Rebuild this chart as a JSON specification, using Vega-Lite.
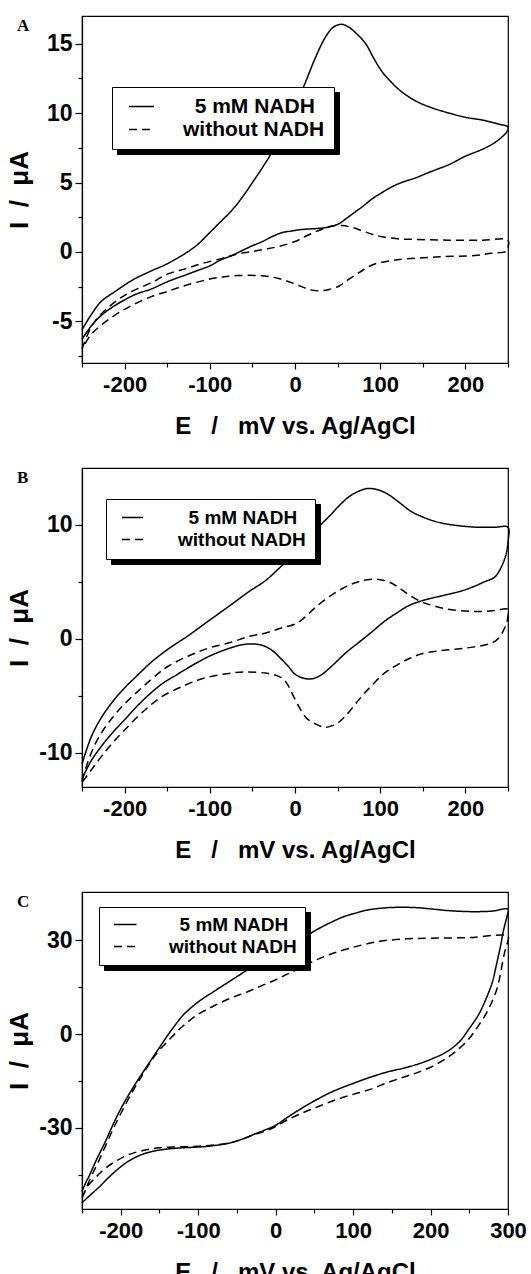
{
"$schema": "https://vega.github.io/schema/vega-lite/v6.json",
"background": "white",
"padding": {"left": 5, "top": 15, "right": 5, "bottom": 0},
"spacing": 28,
"resolve": {"scale": {"color": "independent", "strokeDash": "independent"}, "legend": {"color": "independent", "strokeDash": "independent"}},
"config": {
  "view": {"stroke": "black", "strokeWidth": 1.2},
  "axis": {"domainColor": "black", "domainWidth": 1.2, "tickColor": "black", "tickWidth": 1.2, "grid": false,
           "labelFont": "Liberation Sans", "labelFontWeight": "bold", "labelColor": "black",
           "titleFont": "Liberation Sans", "titleFontWeight": "bold", "titleColor": "black",
           "labelOverlap": false, "labelFlush": false, "labelBound": false},
  "line": {"strokeWidth": 1.5, "color": "black", "interpolate": "catmull-rom"},
  "text": {"font": "Liberation Serif", "fontSize": 17, "fontWeight": "bold", "color": "black", "align": "left", "baseline": "alphabetic"}
},
"datasets": {
"a": [
{"s":"5 mM NADH","o":0,"E":-250,"I":-5.6},{"s":"5 mM NADH","o":1,"E":-240,"I":-4.6},{"s":"5 mM NADH","o":2,"E":-228,"I":-3.6},{"s":"5 mM NADH","o":3,"E":-210,"I":-2.8},{"s":"5 mM NADH","o":4,"E":-190,"I":-2.0},{"s":"5 mM NADH","o":5,"E":-170,"I":-1.4},{"s":"5 mM NADH","o":6,"E":-150,"I":-0.85},{"s":"5 mM NADH","o":7,"E":-130,"I":-0.15},{"s":"5 mM NADH","o":8,"E":-115,"I":0.5},{"s":"5 mM NADH","o":9,"E":-100,"I":1.4},{"s":"5 mM NADH","o":10,"E":-87,"I":2.2},{"s":"5 mM NADH","o":11,"E":-74,"I":3.0},{"s":"5 mM NADH","o":12,"E":-60,"I":4.1},{"s":"5 mM NADH","o":13,"E":-50,"I":5.0},{"s":"5 mM NADH","o":14,"E":-38,"I":6.1},{"s":"5 mM NADH","o":15,"E":-27,"I":7.2},{"s":"5 mM NADH","o":16,"E":-10,"I":9.3},{"s":"5 mM NADH","o":17,"E":0,"I":10.6},{"s":"5 mM NADH","o":18,"E":10,"I":11.9},{"s":"5 mM NADH","o":19,"E":24,"I":14.0},{"s":"5 mM NADH","o":20,"E":35,"I":15.4},{"s":"5 mM NADH","o":21,"E":45,"I":16.2},{"s":"5 mM NADH","o":22,"E":55,"I":16.4},{"s":"5 mM NADH","o":23,"E":63,"I":16.2},{"s":"5 mM NADH","o":24,"E":71,"I":15.8},{"s":"5 mM NADH","o":25,"E":83,"I":15.0},{"s":"5 mM NADH","o":26,"E":92,"I":14.0},{"s":"5 mM NADH","o":27,"E":102,"I":13.0},{"s":"5 mM NADH","o":28,"E":112,"I":12.3},{"s":"5 mM NADH","o":29,"E":122,"I":11.7},{"s":"5 mM NADH","o":30,"E":141,"I":10.9},{"s":"5 mM NADH","o":31,"E":160,"I":10.4},{"s":"5 mM NADH","o":32,"E":181,"I":10.0},{"s":"5 mM NADH","o":33,"E":200,"I":9.7},{"s":"5 mM NADH","o":34,"E":220,"I":9.5},{"s":"5 mM NADH","o":35,"E":240,"I":9.2},{"s":"5 mM NADH","o":36,"E":250,"I":9.0},
{"s":"5 mM NADH","o":37,"E":249,"I":8.7},{"s":"5 mM NADH","o":38,"E":245,"I":8.4},{"s":"5 mM NADH","o":39,"E":235,"I":7.9},{"s":"5 mM NADH","o":40,"E":220,"I":7.4},{"s":"5 mM NADH","o":41,"E":200,"I":6.9},{"s":"5 mM NADH","o":42,"E":181,"I":6.3},{"s":"5 mM NADH","o":43,"E":160,"I":5.8},{"s":"5 mM NADH","o":44,"E":142,"I":5.35},{"s":"5 mM NADH","o":45,"E":125,"I":5.0},{"s":"5 mM NADH","o":46,"E":114,"I":4.7},{"s":"5 mM NADH","o":47,"E":100,"I":4.2},{"s":"5 mM NADH","o":48,"E":90,"I":3.8},{"s":"5 mM NADH","o":49,"E":80,"I":3.3},{"s":"5 mM NADH","o":50,"E":71,"I":2.9},{"s":"5 mM NADH","o":51,"E":60,"I":2.4},{"s":"5 mM NADH","o":52,"E":52,"I":2.05},{"s":"5 mM NADH","o":53,"E":40,"I":1.8},{"s":"5 mM NADH","o":54,"E":28,"I":1.7},{"s":"5 mM NADH","o":55,"E":15,"I":1.65},{"s":"5 mM NADH","o":56,"E":5,"I":1.6},{"s":"5 mM NADH","o":57,"E":-5,"I":1.5},{"s":"5 mM NADH","o":58,"E":-15,"I":1.4},{"s":"5 mM NADH","o":59,"E":-27,"I":1.1},{"s":"5 mM NADH","o":60,"E":-40,"I":0.7},{"s":"5 mM NADH","o":61,"E":-50,"I":0.45},{"s":"5 mM NADH","o":62,"E":-62,"I":0.1},{"s":"5 mM NADH","o":63,"E":-74,"I":-0.25},{"s":"5 mM NADH","o":64,"E":-88,"I":-0.6},{"s":"5 mM NADH","o":65,"E":-100,"I":-1.0},{"s":"5 mM NADH","o":66,"E":-115,"I":-1.35},{"s":"5 mM NADH","o":67,"E":-128,"I":-1.65},{"s":"5 mM NADH","o":68,"E":-148,"I":-2.1},{"s":"5 mM NADH","o":69,"E":-170,"I":-2.7},{"s":"5 mM NADH","o":70,"E":-185,"I":-3.0},{"s":"5 mM NADH","o":71,"E":-200,"I":-3.45},{"s":"5 mM NADH","o":72,"E":-215,"I":-4.0},{"s":"5 mM NADH","o":73,"E":-228,"I":-4.6},{"s":"5 mM NADH","o":74,"E":-240,"I":-5.4},{"s":"5 mM NADH","o":75,"E":-250,"I":-6.3},
{"s":"without NADH","o":0,"E":-250,"I":-7.0},{"s":"without NADH","o":1,"E":-240,"I":-5.5},{"s":"without NADH","o":2,"E":-228,"I":-4.5},{"s":"without NADH","o":3,"E":-208,"I":-3.45},{"s":"without NADH","o":4,"E":-190,"I":-2.8},{"s":"without NADH","o":5,"E":-168,"I":-2.2},{"s":"without NADH","o":6,"E":-150,"I":-1.6},{"s":"without NADH","o":7,"E":-128,"I":-1.2},{"s":"without NADH","o":8,"E":-110,"I":-0.85},{"s":"without NADH","o":9,"E":-88,"I":-0.5},{"s":"without NADH","o":10,"E":-74,"I":-0.25},{"s":"without NADH","o":11,"E":-60,"I":-0.05},{"s":"without NADH","o":12,"E":-48,"I":0.05},{"s":"without NADH","o":13,"E":-35,"I":0.2},{"s":"without NADH","o":14,"E":-19,"I":0.4},{"s":"without NADH","o":15,"E":0,"I":0.75},{"s":"without NADH","o":16,"E":15,"I":1.2},{"s":"without NADH","o":17,"E":30,"I":1.6},{"s":"without NADH","o":18,"E":42,"I":1.85},{"s":"without NADH","o":19,"E":55,"I":1.9},{"s":"without NADH","o":20,"E":68,"I":1.75},{"s":"without NADH","o":21,"E":80,"I":1.5},{"s":"without NADH","o":22,"E":92,"I":1.25},{"s":"without NADH","o":23,"E":102,"I":1.1},{"s":"without NADH","o":24,"E":120,"I":0.95},{"s":"without NADH","o":25,"E":142,"I":0.9},{"s":"without NADH","o":26,"E":180,"I":0.85},{"s":"without NADH","o":27,"E":220,"I":0.85},{"s":"without NADH","o":28,"E":250,"I":0.85},
{"s":"without NADH","o":29,"E":250,"I":0.3},{"s":"without NADH","o":30,"E":248,"I":0.05},{"s":"without NADH","o":31,"E":230,"I":-0.1},{"s":"without NADH","o":32,"E":211,"I":-0.25},{"s":"without NADH","o":33,"E":170,"I":-0.35},{"s":"without NADH","o":34,"E":131,"I":-0.5},{"s":"without NADH","o":35,"E":110,"I":-0.65},{"s":"without NADH","o":36,"E":92,"I":-0.9},{"s":"without NADH","o":37,"E":80,"I":-1.3},{"s":"without NADH","o":38,"E":70,"I":-1.7},{"s":"without NADH","o":39,"E":60,"I":-2.1},{"s":"without NADH","o":40,"E":52,"I":-2.45},{"s":"without NADH","o":41,"E":40,"I":-2.7},{"s":"without NADH","o":42,"E":30,"I":-2.8},{"s":"without NADH","o":43,"E":20,"I":-2.75},{"s":"without NADH","o":44,"E":10,"I":-2.55},{"s":"without NADH","o":45,"E":0,"I":-2.3},{"s":"without NADH","o":46,"E":-14,"I":-2.0},{"s":"without NADH","o":47,"E":-28,"I":-1.8},{"s":"without NADH","o":48,"E":-45,"I":-1.7},{"s":"without NADH","o":49,"E":-68,"I":-1.7},{"s":"without NADH","o":50,"E":-85,"I":-1.8},{"s":"without NADH","o":51,"E":-100,"I":-1.95},{"s":"without NADH","o":52,"E":-128,"I":-2.4},{"s":"without NADH","o":53,"E":-150,"I":-2.85},{"s":"without NADH","o":54,"E":-168,"I":-3.2},{"s":"without NADH","o":55,"E":-190,"I":-3.8},{"s":"without NADH","o":56,"E":-210,"I":-4.5},{"s":"without NADH","o":57,"E":-228,"I":-5.3},{"s":"without NADH","o":58,"E":-240,"I":-6.0},{"s":"without NADH","o":59,"E":-250,"I":-7.0}
],
"b": [
{"s":"5 mM NADH","o":0,"E":-250,"I":-11.0},{"s":"5 mM NADH","o":1,"E":-245,"I":-9.8},{"s":"5 mM NADH","o":2,"E":-238,"I":-8.4},{"s":"5 mM NADH","o":3,"E":-228,"I":-7.0},{"s":"5 mM NADH","o":4,"E":-215,"I":-5.6},{"s":"5 mM NADH","o":5,"E":-200,"I":-4.3},{"s":"5 mM NADH","o":6,"E":-185,"I":-3.2},{"s":"5 mM NADH","o":7,"E":-168,"I":-2.0},{"s":"5 mM NADH","o":8,"E":-149,"I":-0.9},{"s":"5 mM NADH","o":9,"E":-125,"I":0.3},{"s":"5 mM NADH","o":10,"E":-113,"I":0.95},{"s":"5 mM NADH","o":11,"E":-101,"I":1.6},{"s":"5 mM NADH","o":12,"E":-88,"I":2.3},{"s":"5 mM NADH","o":13,"E":-75,"I":3.0},{"s":"5 mM NADH","o":14,"E":-55,"I":4.1},{"s":"5 mM NADH","o":15,"E":-35,"I":5.1},{"s":"5 mM NADH","o":16,"E":-20,"I":6.1},{"s":"5 mM NADH","o":17,"E":-5,"I":7.2},{"s":"5 mM NADH","o":18,"E":5,"I":7.9},{"s":"5 mM NADH","o":19,"E":19,"I":9.1},{"s":"5 mM NADH","o":20,"E":30,"I":10.0},{"s":"5 mM NADH","o":21,"E":42,"I":10.9},{"s":"5 mM NADH","o":22,"E":52,"I":11.7},{"s":"5 mM NADH","o":23,"E":62,"I":12.4},{"s":"5 mM NADH","o":24,"E":73,"I":12.9},{"s":"5 mM NADH","o":25,"E":85,"I":13.2},{"s":"5 mM NADH","o":26,"E":97,"I":13.1},{"s":"5 mM NADH","o":27,"E":109,"I":12.7},{"s":"5 mM NADH","o":28,"E":122,"I":12.0},{"s":"5 mM NADH","o":29,"E":136,"I":11.2},{"s":"5 mM NADH","o":30,"E":150,"I":10.7},{"s":"5 mM NADH","o":31,"E":165,"I":10.3},{"s":"5 mM NADH","o":32,"E":185,"I":10.0},{"s":"5 mM NADH","o":33,"E":214,"I":9.8},{"s":"5 mM NADH","o":34,"E":235,"I":9.8},{"s":"5 mM NADH","o":35,"E":250,"I":9.8},
{"s":"5 mM NADH","o":36,"E":250,"I":8.5},{"s":"5 mM NADH","o":37,"E":248,"I":7.5},{"s":"5 mM NADH","o":38,"E":245,"I":6.8},{"s":"5 mM NADH","o":39,"E":240,"I":6.0},{"s":"5 mM NADH","o":40,"E":234,"I":5.4},{"s":"5 mM NADH","o":41,"E":222,"I":5.0},{"s":"5 mM NADH","o":42,"E":210,"I":4.6},{"s":"5 mM NADH","o":43,"E":195,"I":4.2},{"s":"5 mM NADH","o":44,"E":179,"I":3.9},{"s":"5 mM NADH","o":45,"E":162,"I":3.6},{"s":"5 mM NADH","o":46,"E":147,"I":3.3},{"s":"5 mM NADH","o":47,"E":133,"I":2.9},{"s":"5 mM NADH","o":48,"E":120,"I":2.3},{"s":"5 mM NADH","o":49,"E":106,"I":1.6},{"s":"5 mM NADH","o":50,"E":90,"I":0.6},{"s":"5 mM NADH","o":51,"E":75,"I":-0.3},{"s":"5 mM NADH","o":52,"E":60,"I":-1.2},{"s":"5 mM NADH","o":53,"E":50,"I":-1.9},{"s":"5 mM NADH","o":54,"E":40,"I":-2.6},{"s":"5 mM NADH","o":55,"E":30,"I":-3.2},{"s":"5 mM NADH","o":56,"E":20,"I":-3.5},{"s":"5 mM NADH","o":57,"E":10,"I":-3.45},{"s":"5 mM NADH","o":58,"E":0,"I":-3.1},{"s":"5 mM NADH","o":59,"E":-8,"I":-2.4},{"s":"5 mM NADH","o":60,"E":-17,"I":-1.7},{"s":"5 mM NADH","o":61,"E":-27,"I":-1.0},{"s":"5 mM NADH","o":62,"E":-37,"I":-0.6},{"s":"5 mM NADH","o":63,"E":-48,"I":-0.45},{"s":"5 mM NADH","o":64,"E":-61,"I":-0.5},{"s":"5 mM NADH","o":65,"E":-80,"I":-0.9},{"s":"5 mM NADH","o":66,"E":-100,"I":-1.5},{"s":"5 mM NADH","o":67,"E":-120,"I":-2.3},{"s":"5 mM NADH","o":68,"E":-140,"I":-3.2},{"s":"5 mM NADH","o":69,"E":-157,"I":-4.0},{"s":"5 mM NADH","o":70,"E":-180,"I":-5.5},{"s":"5 mM NADH","o":71,"E":-200,"I":-7.1},{"s":"5 mM NADH","o":72,"E":-215,"I":-8.3},{"s":"5 mM NADH","o":73,"E":-228,"I":-9.5},{"s":"5 mM NADH","o":74,"E":-240,"I":-10.8},{"s":"5 mM NADH","o":75,"E":-250,"I":-12.3},
{"s":"without NADH","o":0,"E":-250,"I":-12.5},{"s":"without NADH","o":1,"E":-244,"I":-11.0},{"s":"without NADH","o":2,"E":-235,"I":-9.3},{"s":"without NADH","o":3,"E":-225,"I":-8.0},{"s":"without NADH","o":4,"E":-212,"I":-6.7},{"s":"without NADH","o":5,"E":-200,"I":-5.7},{"s":"without NADH","o":6,"E":-180,"I":-4.3},{"s":"without NADH","o":7,"E":-160,"I":-3.0},{"s":"without NADH","o":8,"E":-149,"I":-2.4},{"s":"without NADH","o":9,"E":-125,"I":-1.5},{"s":"without NADH","o":10,"E":-101,"I":-0.8},{"s":"without NADH","o":11,"E":-75,"I":-0.3},{"s":"without NADH","o":12,"E":-55,"I":0.2},{"s":"without NADH","o":13,"E":-35,"I":0.5},{"s":"without NADH","o":14,"E":-16,"I":0.95},{"s":"without NADH","o":15,"E":0,"I":1.3},{"s":"without NADH","o":16,"E":10,"I":1.8},{"s":"without NADH","o":17,"E":23,"I":2.7},{"s":"without NADH","o":18,"E":40,"I":3.7},{"s":"without NADH","o":19,"E":55,"I":4.4},{"s":"without NADH","o":20,"E":70,"I":4.9},{"s":"without NADH","o":21,"E":85,"I":5.2},{"s":"without NADH","o":22,"E":100,"I":5.2},{"s":"without NADH","o":23,"E":110,"I":5.0},{"s":"without NADH","o":24,"E":120,"I":4.6},{"s":"without NADH","o":25,"E":133,"I":3.9},{"s":"without NADH","o":26,"E":147,"I":3.3},{"s":"without NADH","o":27,"E":163,"I":2.9},{"s":"without NADH","o":28,"E":179,"I":2.6},{"s":"without NADH","o":29,"E":200,"I":2.45},{"s":"without NADH","o":30,"E":218,"I":2.4},{"s":"without NADH","o":31,"E":235,"I":2.5},{"s":"without NADH","o":32,"E":250,"I":2.6},
{"s":"without NADH","o":33,"E":250,"I":2.0},{"s":"without NADH","o":34,"E":248,"I":1.3},{"s":"without NADH","o":35,"E":245,"I":0.8},{"s":"without NADH","o":36,"E":241,"I":0.25},{"s":"without NADH","o":37,"E":235,"I":-0.2},{"s":"without NADH","o":38,"E":225,"I":-0.5},{"s":"without NADH","o":39,"E":201,"I":-0.8},{"s":"without NADH","o":40,"E":175,"I":-1.0},{"s":"without NADH","o":41,"E":149,"I":-1.3},{"s":"without NADH","o":42,"E":135,"I":-1.7},{"s":"without NADH","o":43,"E":122,"I":-2.2},{"s":"without NADH","o":44,"E":105,"I":-3.0},{"s":"without NADH","o":45,"E":90,"I":-4.1},{"s":"without NADH","o":46,"E":80,"I":-4.9},{"s":"without NADH","o":47,"E":70,"I":-5.8},{"s":"without NADH","o":48,"E":60,"I":-6.7},{"s":"without NADH","o":49,"E":50,"I":-7.4},{"s":"without NADH","o":50,"E":40,"I":-7.7},{"s":"without NADH","o":51,"E":34,"I":-7.75},{"s":"without NADH","o":52,"E":25,"I":-7.5},{"s":"without NADH","o":53,"E":14,"I":-7.0},{"s":"without NADH","o":54,"E":5,"I":-6.0},{"s":"without NADH","o":55,"E":-2,"I":-5.0},{"s":"without NADH","o":56,"E":-8,"I":-4.1},{"s":"without NADH","o":57,"E":-14,"I":-3.5},{"s":"without NADH","o":58,"E":-22,"I":-3.2},{"s":"without NADH","o":59,"E":-35,"I":-3.0},{"s":"without NADH","o":60,"E":-57,"I":-2.9},{"s":"without NADH","o":61,"E":-80,"I":-3.05},{"s":"without NADH","o":62,"E":-109,"I":-3.5},{"s":"without NADH","o":63,"E":-130,"I":-4.1},{"s":"without NADH","o":64,"E":-157,"I":-5.1},{"s":"without NADH","o":65,"E":-180,"I":-6.5},{"s":"without NADH","o":66,"E":-200,"I":-8.0},{"s":"without NADH","o":67,"E":-215,"I":-9.2},{"s":"without NADH","o":68,"E":-228,"I":-10.4},{"s":"without NADH","o":69,"E":-240,"I":-11.6},{"s":"without NADH","o":70,"E":-250,"I":-12.6}
],
"c": [
{"s":"5 mM NADH","o":0,"E":-250,"I":-50.4},{"s":"5 mM NADH","o":1,"E":-245,"I":-47.5},{"s":"5 mM NADH","o":2,"E":-240,"I":-45},{"s":"5 mM NADH","o":3,"E":-232,"I":-40.6},{"s":"5 mM NADH","o":4,"E":-220,"I":-34.5},{"s":"5 mM NADH","o":5,"E":-210,"I":-29},{"s":"5 mM NADH","o":6,"E":-199,"I":-23.5},{"s":"5 mM NADH","o":7,"E":-185,"I":-17.5},{"s":"5 mM NADH","o":8,"E":-171,"I":-12.1},{"s":"5 mM NADH","o":9,"E":-160,"I":-8.0},{"s":"5 mM NADH","o":10,"E":-150,"I":-4.3},{"s":"5 mM NADH","o":11,"E":-140,"I":-0.6},{"s":"5 mM NADH","o":12,"E":-130,"I":2.8},{"s":"5 mM NADH","o":13,"E":-119,"I":6.2},{"s":"5 mM NADH","o":14,"E":-100,"I":10.3},{"s":"5 mM NADH","o":15,"E":-80,"I":13.6},{"s":"5 mM NADH","o":16,"E":-60,"I":16.8},{"s":"5 mM NADH","o":17,"E":-40,"I":20.0},{"s":"5 mM NADH","o":18,"E":-24,"I":22.5},{"s":"5 mM NADH","o":19,"E":0,"I":26.0},{"s":"5 mM NADH","o":20,"E":15,"I":28.2},{"s":"5 mM NADH","o":21,"E":33,"I":30.3},{"s":"5 mM NADH","o":22,"E":50,"I":33.0},{"s":"5 mM NADH","o":23,"E":70,"I":35.6},{"s":"5 mM NADH","o":24,"E":87,"I":37.5},{"s":"5 mM NADH","o":25,"E":104,"I":38.8},{"s":"5 mM NADH","o":26,"E":120,"I":39.8},{"s":"5 mM NADH","o":27,"E":140,"I":40.4},{"s":"5 mM NADH","o":28,"E":160,"I":40.6},{"s":"5 mM NADH","o":29,"E":181,"I":40.5},{"s":"5 mM NADH","o":30,"E":200,"I":40.1},{"s":"5 mM NADH","o":31,"E":220,"I":39.6},{"s":"5 mM NADH","o":32,"E":240,"I":39.3},{"s":"5 mM NADH","o":33,"E":260,"I":39.2},{"s":"5 mM NADH","o":34,"E":280,"I":39.4},{"s":"5 mM NADH","o":35,"E":300,"I":40.0},
{"s":"5 mM NADH","o":36,"E":299,"I":38},{"s":"5 mM NADH","o":37,"E":297,"I":36},{"s":"5 mM NADH","o":38,"E":294,"I":33},{"s":"5 mM NADH","o":39,"E":291,"I":29},{"s":"5 mM NADH","o":40,"E":288,"I":25.5},{"s":"5 mM NADH","o":41,"E":284,"I":21},{"s":"5 mM NADH","o":42,"E":280,"I":16.8},{"s":"5 mM NADH","o":43,"E":272,"I":11.5},{"s":"5 mM NADH","o":44,"E":262,"I":6.2},{"s":"5 mM NADH","o":45,"E":250,"I":1.8},{"s":"5 mM NADH","o":46,"E":237,"I":-2.5},{"s":"5 mM NADH","o":47,"E":220,"I":-5.8},{"s":"5 mM NADH","o":48,"E":203,"I":-7.8},{"s":"5 mM NADH","o":49,"E":185,"I":-9.5},{"s":"5 mM NADH","o":50,"E":165,"I":-10.9},{"s":"5 mM NADH","o":51,"E":143,"I":-12.2},{"s":"5 mM NADH","o":52,"E":120,"I":-14.0},{"s":"5 mM NADH","o":53,"E":100,"I":-15.8},{"s":"5 mM NADH","o":54,"E":80,"I":-17.7},{"s":"5 mM NADH","o":55,"E":65,"I":-19.4},{"s":"5 mM NADH","o":56,"E":50,"I":-21.4},{"s":"5 mM NADH","o":57,"E":34,"I":-23.7},{"s":"5 mM NADH","o":58,"E":15,"I":-26.7},{"s":"5 mM NADH","o":59,"E":0,"I":-29.2},{"s":"5 mM NADH","o":60,"E":-15,"I":-30.8},{"s":"5 mM NADH","o":61,"E":-27,"I":-32.0},{"s":"5 mM NADH","o":62,"E":-45,"I":-33.8},{"s":"5 mM NADH","o":63,"E":-62,"I":-35.0},{"s":"5 mM NADH","o":64,"E":-80,"I":-35.7},{"s":"5 mM NADH","o":65,"E":-96,"I":-36.1},{"s":"5 mM NADH","o":66,"E":-120,"I":-36.4},{"s":"5 mM NADH","o":67,"E":-140,"I":-36.8},{"s":"5 mM NADH","o":68,"E":-160,"I":-37.6},{"s":"5 mM NADH","o":69,"E":-175,"I":-38.8},{"s":"5 mM NADH","o":70,"E":-190,"I":-40.7},{"s":"5 mM NADH","o":71,"E":-205,"I":-43.5},{"s":"5 mM NADH","o":72,"E":-218,"I":-46.5},{"s":"5 mM NADH","o":73,"E":-228,"I":-49.0},{"s":"5 mM NADH","o":74,"E":-240,"I":-51.7},{"s":"5 mM NADH","o":75,"E":-250,"I":-54.0},
{"s":"without NADH","o":0,"E":-250,"I":-52.5},{"s":"without NADH","o":1,"E":-245,"I":-49.5},{"s":"without NADH","o":2,"E":-238,"I":-45.5},{"s":"without NADH","o":3,"E":-230,"I":-41.5},{"s":"without NADH","o":4,"E":-220,"I":-36},{"s":"without NADH","o":5,"E":-210,"I":-30.5},{"s":"without NADH","o":6,"E":-200,"I":-25.5},{"s":"without NADH","o":7,"E":-185,"I":-18.5},{"s":"without NADH","o":8,"E":-170,"I":-12.3},{"s":"without NADH","o":9,"E":-155,"I":-6.6},{"s":"without NADH","o":10,"E":-136,"I":-1.4},{"s":"without NADH","o":11,"E":-120,"I":2.5},{"s":"without NADH","o":12,"E":-101,"I":6.2},{"s":"without NADH","o":13,"E":-80,"I":9.0},{"s":"without NADH","o":14,"E":-59,"I":11.4},{"s":"without NADH","o":15,"E":-37,"I":13.5},{"s":"without NADH","o":16,"E":-18,"I":15.5},{"s":"without NADH","o":17,"E":0,"I":17.4},{"s":"without NADH","o":18,"E":15,"I":19.2},{"s":"without NADH","o":19,"E":30,"I":21.0},{"s":"without NADH","o":20,"E":50,"I":23.5},{"s":"without NADH","o":21,"E":70,"I":25.5},{"s":"without NADH","o":22,"E":100,"I":27.8},{"s":"without NADH","o":23,"E":134,"I":29.7},{"s":"without NADH","o":24,"E":170,"I":30.5},{"s":"without NADH","o":25,"E":200,"I":30.7},{"s":"without NADH","o":26,"E":250,"I":30.9},{"s":"without NADH","o":27,"E":300,"I":31.3},
{"s":"without NADH","o":28,"E":299,"I":29},{"s":"without NADH","o":29,"E":296,"I":26.5},{"s":"without NADH","o":30,"E":293,"I":23},{"s":"without NADH","o":31,"E":290,"I":19},{"s":"without NADH","o":32,"E":286,"I":14.7},{"s":"without NADH","o":33,"E":279,"I":10.2},{"s":"without NADH","o":34,"E":271,"I":6.2},{"s":"without NADH","o":35,"E":261,"I":2.4},{"s":"without NADH","o":36,"E":250,"I":-1.4},{"s":"without NADH","o":37,"E":236,"I":-4.8},{"s":"without NADH","o":38,"E":220,"I":-7.8},{"s":"without NADH","o":39,"E":200,"I":-10.6},{"s":"without NADH","o":40,"E":182,"I":-12.4},{"s":"without NADH","o":41,"E":165,"I":-13.8},{"s":"without NADH","o":42,"E":144,"I":-15.6},{"s":"without NADH","o":43,"E":122,"I":-17.7},{"s":"without NADH","o":44,"E":100,"I":-19.3},{"s":"without NADH","o":45,"E":78,"I":-21.0},{"s":"without NADH","o":46,"E":56,"I":-23.1},{"s":"without NADH","o":47,"E":34,"I":-25.3},{"s":"without NADH","o":48,"E":15,"I":-27.5},{"s":"without NADH","o":49,"E":0,"I":-29.6},{"s":"without NADH","o":50,"E":-15,"I":-31.2},{"s":"without NADH","o":51,"E":-30,"I":-32.4},{"s":"without NADH","o":52,"E":-45,"I":-33.8},{"s":"without NADH","o":53,"E":-60,"I":-34.9},{"s":"without NADH","o":54,"E":-80,"I":-35.5},{"s":"without NADH","o":55,"E":-100,"I":-35.9},{"s":"without NADH","o":56,"E":-125,"I":-36.1},{"s":"without NADH","o":57,"E":-150,"I":-36.4},{"s":"without NADH","o":58,"E":-170,"I":-37.2},{"s":"without NADH","o":59,"E":-190,"I":-38.6},{"s":"without NADH","o":60,"E":-205,"I":-40.5},{"s":"without NADH","o":61,"E":-220,"I":-43.0},{"s":"without NADH","o":62,"E":-232,"I":-45.8},{"s":"without NADH","o":63,"E":-242,"I":-48.5},{"s":"without NADH","o":64,"E":-250,"I":-52.5}
]
},
"vconcat": [
{
  "width": 426, "height": 347,
  "data": {"name": "a"},
  "resolve": {"axis": {"x": "independent", "y": "independent"}},
  "layer": [
  {
  "mark": {"type": "line"},
  "encoding": {
    "x": {"field": "E", "type": "quantitative", "scale": {"domain": [-250, 250], "nice": false, "zero": false},
          "axis": {"title": "E\u00a0\u00a0\u00a0/\u00a0\u00a0\u00a0mV vs. Ag/AgCl", "values": [-250,-200,-150,-100,-50,0,50,100,150,200,250],
                   "labelExpr": "datum.value % 100 === 0 ? '' + datum.value : ''",
                   "tickSize": {"condition": {"test": "datum.value % 100 === 0", "value": 6}, "value": 4},
                   "labelPadding": 5, "labelFontSize": 22, "titleFontSize": 24, "titlePadding": 19}},
    "y": {"field": "I", "type": "quantitative", "scale": {"domain": [-8, 17], "nice": false, "zero": false},
          "axis": {"title": "I\u00a0\u00a0/\u00a0\u00a0μA", "values": [-7.5,-5,-2.5,0,2.5,5,7.5,10,12.5,15],
                   "labelExpr": "datum.value % 5 === 0 ? '' + datum.value : ''",
                   "tickSize": {"condition": {"test": "datum.value % 5 === 0", "value": 7}, "value": 4},
                   "labelPadding": 3, "labelFontSize": 23, "titleFontSize": 26, "titlePadding": 14}},
    "order": {"field": "o", "type": "quantitative"},
    "color": {"field": "s", "type": "nominal", "scale": {"domain": ["5 mM NADH", "without NADH"], "range": ["black", "black"]},
              "legend": {"title": null, "orient": "none", "legendX": 35, "legendY": 76, "fillColor": "black", "strokeColor": "black", "padding": 9,
                         "symbolType": "M-0.5,0H4.5", "symbolSize": 100, "symbolStrokeWidth": 1.5, "symbolOpacity": 0, "labelOpacity": 0,
                         "labelExpr": "datum.label == '5 mM NADH' ? '\u200b\u00a0\u00a0' + datum.label : datum.label",
                         "labelFontSize": 21, "labelFont": "Liberation Sans", "labelFontWeight": "bold", "labelOffset": 41, "rowPadding": 1}},
    "strokeDash": {"field": "s", "type": "nominal", "scale": {"range": [[1, 0], [8, 5]]},
              "legend": {"title": null, "orient": "none", "legendX": 30, "legendY": 71, "fillColor": "white", "strokeColor": "black", "padding": 9,
                         "symbolType": "M-0.5,0H4.5", "symbolSize": 100, "symbolStrokeWidth": 1.5, "symbolStrokeColor": "black",
                         "labelExpr": "datum.label == '5 mM NADH' ? '\u200b\u00a0\u00a0' + datum.label : datum.label",
                         "labelFontSize": 21, "labelFont": "Liberation Sans", "labelFontWeight": "bold", "labelColor": "black", "labelOffset": 41, "rowPadding": 1}}
  }
  },
  {
  "data": {"values": [{"lab": "A"}]},
  "mark": {"type": "text", "dx": -65, "dy": 15},
  "encoding": {"x": {"datum": -250, "type": "quantitative", "axis": null}, "y": {"datum": 17, "type": "quantitative", "axis": null}, "text": {"field": "lab"}}
  }
  ]
},
{
  "width": 426, "height": 319,
  "data": {"name": "b"},
  "resolve": {"axis": {"x": "independent", "y": "independent"}},
  "layer": [
  {
  "mark": {"type": "line"},
  "encoding": {
    "x": {"field": "E", "type": "quantitative", "scale": {"domain": [-250, 250], "nice": false, "zero": false},
          "axis": {"title": "E\u00a0\u00a0\u00a0/\u00a0\u00a0\u00a0mV vs. Ag/AgCl", "values": [-250,-200,-150,-100,-50,0,50,100,150,200,250],
                   "labelExpr": "datum.value % 100 === 0 ? '' + datum.value : ''",
                   "tickSize": {"condition": {"test": "datum.value % 100 === 0", "value": 6}, "value": 4},
                   "labelPadding": 5, "labelFontSize": 22, "titleFontSize": 24, "titlePadding": 19}},
    "y": {"field": "I", "type": "quantitative", "scale": {"domain": [-13, 15], "nice": false, "zero": false},
          "axis": {"title": "I\u00a0\u00a0/\u00a0\u00a0μA", "values": [-10,-5,0,5,10],
                   "labelExpr": "datum.value % 10 === 0 ? '' + datum.value : ''",
                   "tickSize": {"condition": {"test": "datum.value % 10 === 0", "value": 7}, "value": 4},
                   "labelPadding": 3, "labelFontSize": 23, "titleFontSize": 26, "titlePadding": 6}},
    "order": {"field": "o", "type": "quantitative"},
    "color": {"field": "s", "type": "nominal", "scale": {"domain": ["5 mM NADH", "without NADH"], "range": ["black", "black"]},
              "legend": {"title": null, "orient": "none", "legendX": 29, "legendY": 36, "fillColor": "black", "strokeColor": "black", "padding": 9,
                         "symbolType": "M-0.5,0H3.7", "symbolSize": 100, "symbolStrokeWidth": 1.5, "symbolOpacity": 0, "labelOpacity": 0,
                         "labelExpr": "datum.label == '5 mM NADH' ? '\u200b\u00a0\u00a0' + datum.label : datum.label",
                         "labelFontSize": 19, "labelFont": "Liberation Sans", "labelFontWeight": "bold", "labelOffset": 44, "rowPadding": 2}},
    "strokeDash": {"field": "s", "type": "nominal", "scale": {"range": [[1, 0], [8, 5]]},
              "legend": {"title": null, "orient": "none", "legendX": 24, "legendY": 31, "fillColor": "white", "strokeColor": "black", "padding": 9,
                         "symbolType": "M-0.5,0H3.7", "symbolSize": 100, "symbolStrokeWidth": 1.5, "symbolStrokeColor": "black",
                         "labelExpr": "datum.label == '5 mM NADH' ? '\u200b\u00a0\u00a0' + datum.label : datum.label",
                         "labelFontSize": 19, "labelFont": "Liberation Sans", "labelFontWeight": "bold", "labelColor": "black", "labelOffset": 44, "rowPadding": 2}}
  }
  },
  {
  "data": {"values": [{"lab": "B"}]},
  "mark": {"type": "text", "dx": -65, "dy": 15},
  "encoding": {"x": {"datum": -250, "type": "quantitative", "axis": null}, "y": {"datum": 15, "type": "quantitative", "axis": null}, "text": {"field": "lab"}}
  }
  ]
},
{
  "width": 426, "height": 317,
  "data": {"name": "c"},
  "resolve": {"axis": {"x": "independent", "y": "independent"}},
  "layer": [
  {
  "mark": {"type": "line"},
  "encoding": {
    "x": {"field": "E", "type": "quantitative", "scale": {"domain": [-250, 300], "nice": false, "zero": false},
          "axis": {"title": "E\u00a0\u00a0\u00a0/\u00a0\u00a0\u00a0mV vs. Ag/AgCl", "values": [-250,-200,-150,-100,-50,0,50,100,150,200,250,300],
                   "labelExpr": "datum.value % 100 === 0 ? '' + datum.value : ''",
                   "tickSize": {"condition": {"test": "datum.value % 100 === 0", "value": 6}, "value": 4},
                   "labelPadding": 5, "labelFontSize": 22, "titleFontSize": 24, "titlePadding": 19}},
    "y": {"field": "I", "type": "quantitative", "scale": {"domain": [-56, 45.5], "nice": false, "zero": false},
          "axis": {"title": "I\u00a0\u00a0/\u00a0\u00a0μA", "values": [-45,-30,-15,0,15,30],
                   "labelExpr": "datum.value % 30 === 0 ? '' + datum.value : ''",
                   "tickSize": {"condition": {"test": "datum.value % 30 === 0", "value": 7}, "value": 4},
                   "labelPadding": 3, "labelFontSize": 23, "titleFontSize": 26, "titlePadding": 6}},
    "order": {"field": "o", "type": "quantitative"},
    "color": {"field": "s", "type": "nominal", "scale": {"domain": ["5 mM NADH", "without NADH"], "range": ["black", "black"]},
              "legend": {"title": null, "orient": "none", "legendX": 22, "legendY": 20, "fillColor": "black", "strokeColor": "black", "padding": 8,
                         "symbolType": "M-0.5,0H4", "symbolSize": 100, "symbolStrokeWidth": 1.5, "symbolOpacity": 0, "labelOpacity": 0,
                         "labelExpr": "datum.label == '5 mM NADH' ? '\u200b\u00a0\u00a0' + datum.label : datum.label",
                         "labelFontSize": 19, "labelFont": "Liberation Sans", "labelFontWeight": "bold", "labelOffset": 43, "rowPadding": 2}},
    "strokeDash": {"field": "s", "type": "nominal", "scale": {"range": [[1, 0], [8, 5]]},
              "legend": {"title": null, "orient": "none", "legendX": 17, "legendY": 15, "fillColor": "white", "strokeColor": "black", "padding": 8,
                         "symbolType": "M-0.5,0H4", "symbolSize": 100, "symbolStrokeWidth": 1.5, "symbolStrokeColor": "black",
                         "labelExpr": "datum.label == '5 mM NADH' ? '\u200b\u00a0\u00a0' + datum.label : datum.label",
                         "labelFontSize": 19, "labelFont": "Liberation Sans", "labelFontWeight": "bold", "labelColor": "black", "labelOffset": 43, "rowPadding": 2}}
  }
  },
  {
  "data": {"values": [{"lab": "C"}]},
  "mark": {"type": "text", "dx": -65, "dy": 15},
  "encoding": {"x": {"datum": -250, "type": "quantitative", "axis": null}, "y": {"datum": 45.5, "type": "quantitative", "axis": null}, "text": {"field": "lab"}}
  }
  ]
}
]
}
